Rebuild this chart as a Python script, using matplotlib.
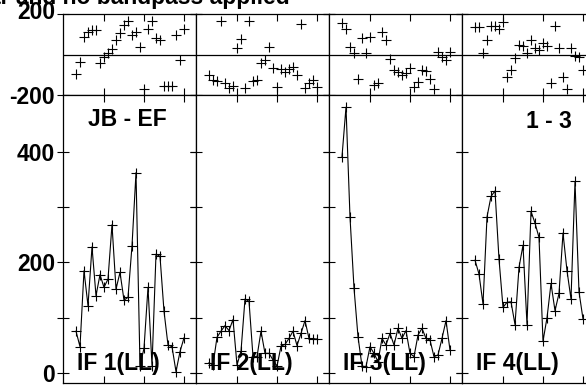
import matplotlib
matplotlib.use("Agg")
import matplotlib.pyplot as plt
from matplotlib.ticker import FixedLocator, NullFormatter

plt.rcParams['font.family'] = ['Liberation Sans', 'DejaVu Sans']
plt.rcParams['font.weight'] = 'bold'

# channels shown in every IF
channels = list(range(3, 31))

# phase (degrees) per IF
phase_if1 = [-96, -35, 88, 113, 121, 121, -40, -14, 6, 26, 72, 105, 146, 167,
             96, 113, 39, -172, 124, 167, 80, 72, -156, -156, -156, 96, -27, 124]
phase_if2 = [-101, -126, -129, 167, -140, -167, -156, 31, 75, -167, 167, -130, -126, -43,
             -27, 39, -68, -162, -73, -85, -73, -60, -101, 151, -167, -142, -126, -159]
phase_if3 = [157, 124, 39, 9, -123, 80, 9, 85, -150, -139, 113, 72, -24, -77,
             -85, -101, -90, -68, -162, -134, -77, -80, -123, -172, 14, -11, -27, 14]
phase_if4 = [134, 134, 6, 72, 141, 141, 124, 162, -113, -77, -19, 47, 40, 6,
             72, 31, 22, 55, 40, -139, 141, 31, -113, -172, 31, -7, -11, -77]

# amplitude per IF
amp_if1 = [76, 48, 185, 122, 228, 140, 178, 155, 170, 268, 152, 182, 132, 137,
           230, 362, 14, 45, 155, 14, 215, 211, 112, 51, 48, 3, 39, 64]
amp_if2 = [19, 15, 65, 76, 86, 77, 97, 15, 40, 134, 130, 30, 30, 76,
           36, 36, 24, 13, 49, 52, 63, 76, 50, 72, 95, 63, 62, 62]
amp_if3 = [391, 480, 282, 154, 66, 13, 12, 48, 36, 21, 63, 51, 72, 51,
           81, 63, 77, 36, 30, 69, 81, 63, 60, 30, 33, 63, 95, 42]
amp_if4 = [204, 179, 125, 282, 319, 329, 206, 119, 128, 129, 88, 191, 231, 88,
           292, 271, 245, 58, 100, 162, 113, 144, 253, 185, 134, 346, 147, 98]

phases = [phase_if1, phase_if2, phase_if3, phase_if4]
amps = [amp_if1, amp_if2, amp_if3, amp_if4]
if_labels = ["IF 1(LL)", "IF 2(LL)", "IF 3(LL)", "IF 4(LL)"]
title = "Cross power spectra, with no calibration applied, no flagging, no polar and no bandpass applied"

W, H = 586, 386
fig = plt.figure(figsize=(W / 100, H / 100), dpi=100)


def box(x0, y0, x1, y1):
    # pixel box (from top-left) -> figure fraction rect
    return [x0 / W, 1 - y1 / H, (x1 - x0) / W, (y1 - y0) / H]


def fx(x):
    return x / W


def fy(y):
    return 1 - y / H


col_left = 63.3
col_w = 133.0
FS = 16.5

for i in range(4):
    x0 = col_left + i * col_w
    x1 = x0 + col_w
    axp = fig.add_axes(box(x0, 14, x1, 95))
    axa = fig.add_axes(box(x0, 95, x1, 383))

    axp.plot(channels, phases[i], ls='none', marker='+', ms=7.5, mew=0.8, color='black')
    axp.axhline(0, color='black', lw=0.9)
    axp.set_ylim(-200, 200)

    axa.plot(channels, amps[i], marker='+', ms=7.5, mew=0.8, lw=0.8, color='black')
    axa.set_ylim(-17.5, 502)

    for ax in (axp, axa):
        ax.set_xlim(-0.175, 33.075)
        ax.xaxis.set_major_locator(FixedLocator([10, 20, 30]))
        ax.xaxis.set_major_formatter(NullFormatter())
        ax.tick_params(axis='x', which='both', direction='in', length=5,
                       width=0.8, top=True, bottom=True, color='black')
        ax.tick_params(axis='y', which='both', direction='inout', length=8,
                       width=0.8, left=True, right=True, pad=2,
                       labelsize=FS, color='black')
        for s in ax.spines.values():
            s.set_linewidth(0.9)
            s.set_color('black')

    axp.set_yticks([-200, 200])
    axa.set_yticks([0, 200, 400])
    axa.yaxis.set_minor_locator(FixedLocator([100, 300]))
    if i == 0:
        axp.set_yticklabels(['-200', ''])
        axa.set_yticklabels(['0', '200', '400'])
    else:
        axp.set_yticklabels([])
        axa.set_yticklabels([])

    fig.text(fx(x0 + 14), fy(370), if_labels[i], fontsize=FS, ha='left', va='baseline')

# labels written straight onto the frame
fig.text(fx(55), fy(12.5), "200", fontsize=FS, ha='right', va='center')
fig.text(fx(127), fy(119), "JB - EF", fontsize=FS, ha='center', va='center')
fig.text(fx(549), fy(121), "1 - 3", fontsize=FS, ha='center', va='center')
fig.text(fx(290), fy(4.0), title, fontsize=FS, ha='right', va='baseline')

fig.savefig("out.png", dpi=100)
